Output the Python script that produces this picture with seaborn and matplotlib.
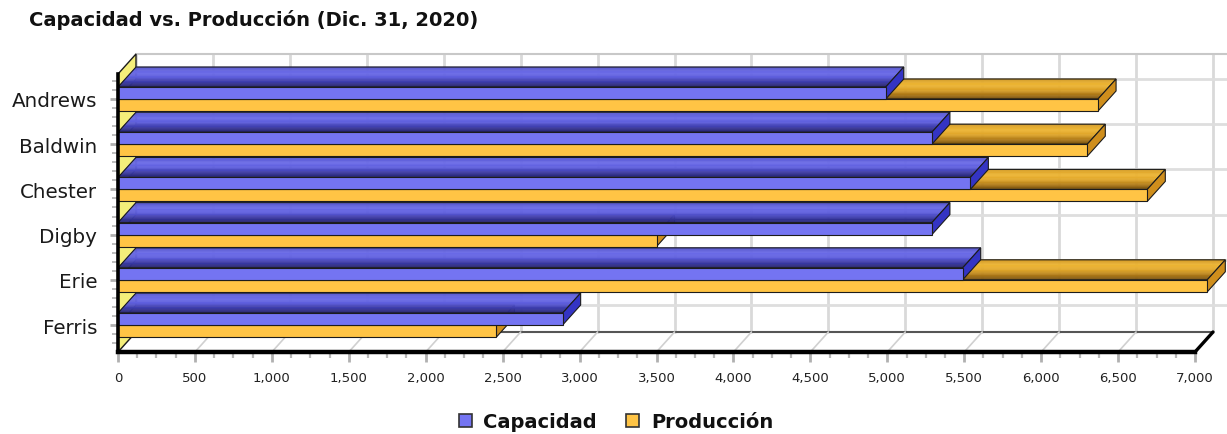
import numpy as np
import pandas as pd
import matplotlib
matplotlib.use("Agg")
import matplotlib.pyplot as plt
import seaborn as sns
from matplotlib.patches import Polygon, Patch
from matplotlib.colors import to_rgb
from matplotlib.transforms import ScaledTranslation
from matplotlib.ticker import MultipleLocator, FuncFormatter, FixedLocator

# ---- data -------------------------------------------------------------
empresas = ["Andrews", "Baldwin", "Chester", "Digby", "Erie", "Ferris"]
capacidad = [4990, 5290, 5540, 5290, 5490, 2890]
produccion = [6370, 6300, 6690, 3500, 7080, 2460]
series = ["Capacidad", "Producción"]
titulo = "Capacidad vs. Producción (Dic. 31, 2020)"
x_ticks = list(range(0, 7001, 500))

df = pd.DataFrame({
    "Empresa": empresas * 2,
    "Unidades": capacidad + produccion,
    "Serie": [series[0]] * len(empresas) + [series[1]] * len(empresas),
})

# ---- styling ----------------------------------------------------------
sns.set_theme(style="white")
plt.rcParams["font.family"] = ["DejaVu Sans"]

W, H, DPI = 1227, 435, 100
DX, DY = 18, 20          # depth of the 3-D effect, in pixels

front_col = {"Capacidad": "#7474f2", "Producción": "#ffc445"}
end_col = {"Capacidad": "#3434c4", "Producción": "#cf8e1c"}
top_grad = {
    "Capacidad": ["#22226a", "#3a3aa8", "#5d5ddc", "#6c6ce8", "#5656cc"],
    "Producción": ["#6e4a0c", "#b07a18", "#e0a62a", "#eeb634", "#d59c26"],
}
edge = "#1c1c1c"

fig = plt.figure(figsize=(W / DPI, H / DPI), dpi=DPI)
fig.patch.set_facecolor("white")
L, R, T, B = 118, 1195, 75, 353
ax = fig.add_axes([L / W, 1 - B / H, (R - L) / W, (B - T) / H])
ax.set_facecolor("none")

sns.barplot(data=df, y="Empresa", x="Unidades", hue="Serie", orient="h",
            order=empresas, hue_order=series,
            palette=[front_col[s] for s in series], saturation=1,
            width=0.53, errorbar=None, edgecolor=edge, linewidth=0.8,
            legend=False, ax=ax)

ax.set_xlim(0, 7000)
ax.set_ylim(5.597, -0.553)
ax.set_xlabel("")
ax.set_ylabel("")

back = ax.transData + ScaledTranslation(DX / DPI, DY / DPI, fig.dpi_scale_trans)
inv = ax.transData.inverted()
y0, y1 = ax.get_ylim()   # y0 = bottom, y1 = top
x_wall_end = 7100        # back wall runs slightly past the last gridline


def to_data(pts):
    return inv.transform(np.asarray(pts, dtype=float))


def mix(c1, c2, t):
    a, b = np.array(to_rgb(c1)), np.array(to_rgb(c2))
    return tuple(a + (b - a) * t)


def grad_color(stops, t):
    n = len(stops) - 1
    k = min(int(t * n), n - 1)
    return mix(stops[k], stops[k + 1], t * n - k)


# ---- back wall, floor and left wall -----------------------------------
for v in x_ticks:
    ax.plot([v, v], [y0, y1], transform=back, color="#d9d9d9", lw=2,
            clip_on=False, zorder=1)
for i in range(len(empresas)):
    ax.plot([0, x_wall_end], [i, i], transform=back, color="#dedede", lw=2,
            clip_on=False, zorder=1)
ax.plot([0, x_wall_end], [y1, y1], transform=back, color="#c8c8c8", lw=1.5,
        clip_on=False, zorder=1)
ax.plot([0, 7000], [y0, y0], transform=back, color="#555555", lw=1.5,
        clip_on=False, zorder=2)

# floor diagonals
for v in x_ticks:
    p_front = ax.transData.transform((v, y0))
    ax.add_line(plt.Line2D(*zip(*to_data([p_front, p_front + [DX, DY]])),
                           color="#d0d0d0", lw=1.2, clip_on=False, zorder=2))

# left wall
bl = ax.transData.transform((0, y0))
tl = ax.transData.transform((0, y1))
wall = to_data([bl, tl, tl + [DX, DY], bl + [DX, DY]])
ax.add_patch(Polygon(wall, closed=True, facecolor="#f4ee7a", edgecolor=edge,
                     lw=1.0, clip_on=False, zorder=3))

# ---- 3-D bars built from the seaborn bar patches ------------------------
bars = list(ax.patches)[: 2 * len(empresas)]
for idx, bar in enumerate(bars):
    h = idx // len(empresas)
    i = idx % len(empresas)
    s = series[h]
    x, y = bar.get_x(), bar.get_y()
    w, hgt = bar.get_width(), bar.get_height()
    (lx, by), (rx, ty) = ax.transData.transform([(x, y + hgt), (x + w, y)])
    z = 100 - (i * 2 + h) * 2
    # top face as bands running from the front edge to the back edge
    n = 16
    for k in range(n):
        t0, t1 = k / n, (k + 1) / n
        pts = [(lx + DX * t0, ty + DY * t0), (rx + DX * t0, ty + DY * t0),
               (rx + DX * t1, ty + DY * t1), (lx + DX * t1, ty + DY * t1)]
        c = grad_color(top_grad[s], (t0 + t1) / 2)
        ax.add_patch(Polygon(to_data(pts), closed=True, facecolor=c,
                             edgecolor=c, lw=0.4, clip_on=False, zorder=z))
    top_pts = [(lx, ty), (rx, ty), (rx + DX, ty + DY), (lx + DX, ty + DY)]
    ax.add_patch(Polygon(to_data(top_pts), closed=True, fill=False,
                         edgecolor=edge, lw=0.8, clip_on=False, zorder=z + 0.1))
    end_pts = [(rx, ty), (rx, by), (rx + DX, by + DY), (rx + DX, ty + DY)]
    ax.add_patch(Polygon(to_data(end_pts), closed=True, facecolor=end_col[s],
                         edgecolor=edge, lw=0.8, clip_on=False, zorder=z + 0.2))
    bar.set_zorder(z + 0.3)
    bar.set_clip_on(False)

# ---- axes frame and ticks ---------------------------------------------
for sp in ["top", "right"]:
    ax.spines[sp].set_visible(False)
ax.spines["left"].set_color("#000000")
ax.spines["left"].set_linewidth(2.6)
ax.spines["left"].set_zorder(150)
ax.spines["bottom"].set_color("#000000")
ax.spines["bottom"].set_linewidth(3.2)
ax.spines["bottom"].set_zorder(150)
br = ax.transData.transform((7000, y0))
ax.add_line(plt.Line2D(*zip(*to_data([br, br + [DX, DY]])), color="#000000",
                       lw=2.4, clip_on=False, zorder=150))

ax.xaxis.set_major_locator(FixedLocator(x_ticks))
ax.xaxis.set_minor_locator(MultipleLocator(125))
ax.xaxis.set_major_formatter(FuncFormatter(lambda v, p: f"{int(v):,}"))
ax.yaxis.set_minor_locator(MultipleLocator(0.2))
ax.tick_params(axis="x", which="major", bottom=True, length=7, width=2,
               color="#b0b0b0", pad=7, labelsize=9.5, labelcolor="#222222")
ax.tick_params(axis="x", which="minor", bottom=True, length=4.5, width=1.6,
               color="#b8b8b8")
ax.tick_params(axis="y", which="major", left=True, length=6, width=2,
               color="#b0b0b0", pad=9, labelsize=14.3, labelcolor="#1a1a1a")
ax.tick_params(axis="y", which="minor", left=True, length=4, width=1.4,
               color="#bdbdbd")

# ---- title and legend -------------------------------------------------
fig.text(29 / W, 1 - 20 / H, titulo, ha="left", va="center",
         fontsize=14, fontweight="bold", color="#111111")

handles = [Patch(facecolor=front_col[s], edgecolor="#333333", lw=1.2, label=s)
           for s in series]
leg = fig.legend(handles=handles, loc="center", ncol=2, frameon=False,
                 bbox_to_anchor=(616 / W, 1 - 423 / H),
                 prop={"weight": "bold", "size": 14},
                 handlelength=0.68, handleheight=0.68, handletextpad=0.6,
                 columnspacing=1.5)
for t in leg.get_texts():
    t.set_color("#111111")

fig.savefig("out.png", dpi=DPI)
